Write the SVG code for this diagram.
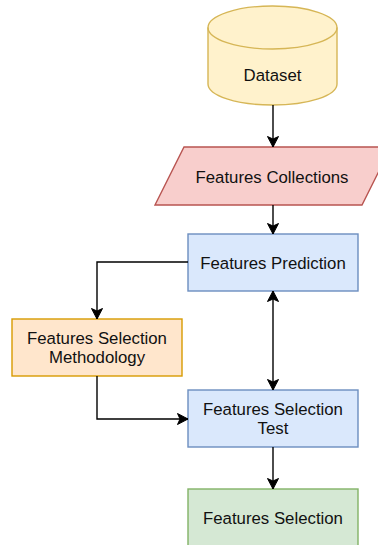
<svg xmlns="http://www.w3.org/2000/svg" width="378" height="545" viewBox="0 0 378 545">
<style>
text{font-family:"Liberation Sans",Arial,sans-serif;font-size:16.8px;fill:#111;text-anchor:middle}
.e{fill:none;stroke:#000;stroke-width:1.4}
</style>
<defs>
<marker id="a" markerUnits="userSpaceOnUse" markerWidth="13" markerHeight="13" viewBox="0 0 13 13" refX="11.5" refY="6.5" orient="auto-start-reverse">
<path d="M1,1 L11.5,6.5 L1,12 L3.5,6.5 Z" fill="#000" stroke="#000" stroke-width="1"/>
</marker>
</defs>
<rect width="378" height="545" fill="#fff"/>
<g id="dataset">
<path d="M208,27.5 A64.5,21.5 0 0 1 337,27.5 V84 A64.5,21 0 0 1 208,84 Z" fill="#fff2cc" stroke="#d6b656" stroke-width="1.4"/>
<path d="M208,27.5 A64.5,21.5 0 0 0 337,27.5" fill="none" stroke="#d6b656" stroke-width="1.4"/>
<text x="272.5" y="81">Dataset</text>
</g>
<g id="collections">
<path d="M184,147 H391 L362,205 H155 Z" fill="#f8cecc" stroke="#b85450" stroke-width="1.4"/>
<text x="272" y="183">Features Collections</text>
</g>
<g id="prediction">
<rect x="188" y="234" width="170" height="57" fill="#dae8fc" stroke="#6c8ebf" stroke-width="1.4"/>
<text x="273" y="268.5">Features Prediction</text>
</g>
<g id="methodology">
<rect x="12" y="319" width="170" height="57" fill="#ffe6cc" stroke="#d79b00" stroke-width="1.4"/>
<text x="97" y="344">Features Selection</text>
<text x="97" y="363">Methodology</text>
</g>
<g id="test">
<rect x="188" y="390" width="170" height="57" fill="#dae8fc" stroke="#6c8ebf" stroke-width="1.4"/>
<text x="273" y="415">Features Selection</text>
<text x="273" y="434">Test</text>
</g>
<g id="selection">
<rect x="188" y="489" width="170" height="57" fill="#d5e8d4" stroke="#82b366" stroke-width="1.4"/>
<text x="273" y="524">Features Selection</text>
</g>
<g id="connectors">
<path class="e" d="M273,105 V147" marker-end="url(#a)"/>
<path class="e" d="M273,205 V234" marker-end="url(#a)"/>
<path class="e" d="M188,262 H97 V319" marker-end="url(#a)"/>
<path class="e" d="M97,376 V419 H188" marker-end="url(#a)"/>
<path class="e" d="M273,291 V390" marker-start="url(#a)" marker-end="url(#a)"/>
<path class="e" d="M273,447 V489" marker-end="url(#a)"/>
</g>
</svg>
